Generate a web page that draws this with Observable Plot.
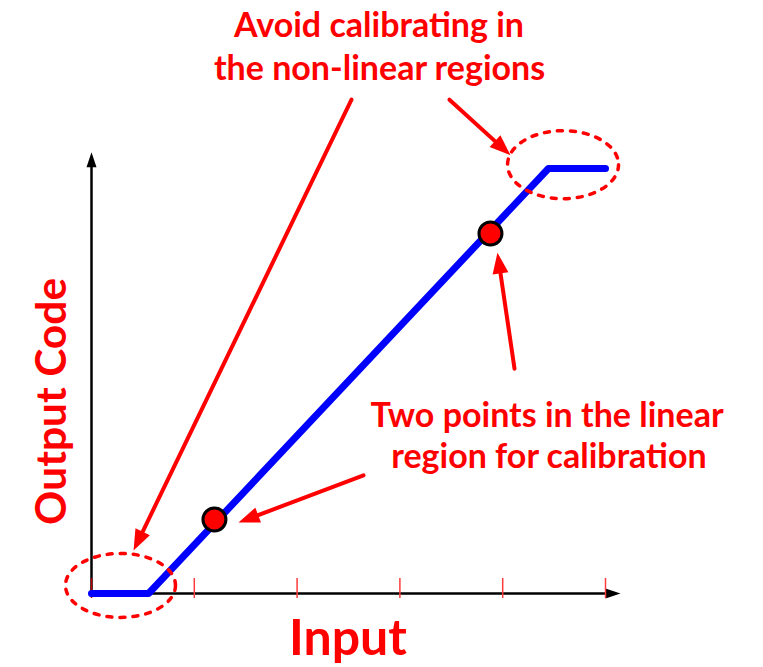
<!DOCTYPE html>
<html>
<head>
<meta charset="utf-8">
<script src="https://cdn.jsdelivr.net/npm/d3@7"></script>
<script src="https://cdn.jsdelivr.net/npm/@observablehq/plot@0.6"></script>
<style>
  html, body { margin: 0; padding: 0; background: #fff; }
  #chart svg { display: block; overflow: visible; }
</style>
</head>
<body>
<div id="chart"></div>
<script>
// ---- data (input units on x, normalized output code on y) ----
const inputTicks = [0, 1, 2, 3, 4, 5];
const transferInput = [0, 0.555, 4.445, 5];
const transferCode = [0, 0, 1, 1];
const calInput = [1.196, 3.881];
const calCode = [0.174, 0.847];
const regionInput = [0.282, 4.587];
const regionCode = [0.019, 1.009];
const labelText = ["Avoid calibrating in", "the non-linear regions", "Two points in the linear", "region for calibration"];
const labelInput = [2.797, 2.802, 4.431, 4.450];
const labelCode = [1.334, 1.235, 0.417, 0.320];
const arrowFromInput = [2.529, 3.482, 4.115, 2.646];
const arrowFromCode = [1.162, 1.162, 0.529, 0.278];
const arrowToInput = [0.409, 4.076, 3.949, 1.430];
const arrowToCode = [0.101, 1.031, 0.802, 0.167];
const axisEndInput = 5.146;
const axisEndCode = 1.038;
const xTitle = ["Input"], xTitleInput = [2.495], xTitleCode = [-0.108];
const yTitle = ["Output Code"], yTitleInput = [-0.385], yTitleCode = [0.452];

const W = 763, H = 667, ML = 91, MR = 158, MT = 168, MB = 74;
const xDomain = [0, 5], yDomain = [0, 1];
const sx = d3.scaleLinear(xDomain, [ML, W - MR]);
const sy = d3.scaleLinear(yDomain, [H - MB, MT]);

const RED = "#ff0000";
const FONT = "Lato, 'Open Sans', sans-serif";

const transfer = transferInput.map((x, i) => ({x, y: transferCode[i]}));
const cal = calInput.map((x, i) => ({x, y: calCode[i]}));
const labels = labelText.map((t, i) => ({t, x: labelInput[i], y: labelCode[i]}));

const HEAD = 21;
const arrows = arrowFromInput.map((x1, i) => {
  const x1p = sx(x1), y1p = sy(arrowFromCode[i]);
  const x2p = sx(arrowToInput[i]), y2p = sy(arrowToCode[i]);
  const dx = x2p - x1p, dy = y2p - y1p, len = Math.hypot(dx, dy);
  const ux = dx / len, uy = dy / len;
  return {
    x1, y1: arrowFromCode[i],
    x2: arrowToInput[i], y2: arrowToCode[i],
    xe: sx.invert(x2p - ux * (HEAD - 4)), ye: sy.invert(y2p - uy * (HEAD - 4)),
    rot: Math.atan2(dx, -dy) * 180 / Math.PI
  };
});

const headShape = (hw) => ({
  draw(ctx, l) {
    ctx.moveTo(0, -l);
    ctx.lineTo(-hw, 0);
    ctx.lineTo(hw, 0);
    ctx.closePath();
  }
});

const ellipse = (rx, ry) => ({
  draw(ctx) {
    const k = 0.5523, kx = rx * k, ky = ry * k;
    ctx.moveTo(rx, 0);
    ctx.bezierCurveTo(rx, ky, kx, ry, 0, ry);
    ctx.bezierCurveTo(-kx, ry, -rx, ky, -rx, 0);
    ctx.bezierCurveTo(-rx, -ky, -kx, -ry, 0, -ry);
    ctx.bezierCurveTo(kx, -ry, rx, -ky, rx, 0);
    ctx.closePath();
  }
});

const regionLow = [{x: regionInput[0], y: regionCode[0]}];
const regionHigh = [{x: regionInput[1], y: regionCode[1]}];

const plot = Plot.plot({
  width: W, height: H,
  marginLeft: ML, marginRight: MR, marginTop: MT, marginBottom: MB,
  x: {domain: xDomain, axis: null},
  y: {domain: yDomain, axis: null},
  style: {background: "#fff", overflow: "visible"},
  marks: [
    // axes
    Plot.ruleY([0], {x1: 0, x2: axisEndInput - 0.1, stroke: "#000", strokeWidth: 2.5}),
    Plot.ruleX([0], {y1: 0, y2: axisEndCode - 0.02, stroke: "#000", strokeWidth: 2.5}),
    Plot.vector([{x: axisEndInput, y: 0}], {x: "x", y: "y", rotate: 90, length: 15, anchor: "end",
      shape: headShape(5), fill: "#000", stroke: "none"}),
    Plot.vector([{x: 0, y: axisEndCode}], {x: "x", y: "y", rotate: 0, length: 15, anchor: "end",
      shape: headShape(5), fill: "#000", stroke: "none"}),
    // ticks
    Plot.ruleX(inputTicks, {x: d => d, y1: 0, y2: 0, insetTop: -15, insetBottom: -5,
      stroke: (d) => d === 0 ? "#b00000" : "#ff3b3b", strokeWidth: 1.5}),
    // transfer curve
    Plot.line(transfer, {x: "x", y: "y", stroke: "#0000ff", strokeWidth: 7,
      strokeLinejoin: "round", strokeLinecap: "round"}),
    // non-linear regions
    Plot.dot(regionLow, {x: "x", y: "y", symbol: ellipse(55, 32), r: 10, fill: "none",
      stroke: RED, strokeWidth: 3.5, strokeDasharray: "5,8", strokeLinecap: "round"}),
    Plot.dot(regionHigh, {x: "x", y: "y", symbol: ellipse(55.5, 34), r: 10, fill: "none",
      stroke: RED, strokeWidth: 3.5, strokeDasharray: "5,8", strokeLinecap: "round"}),
    // calibration points
    Plot.dot(cal, {x: "x", y: "y", r: 11.5, fill: RED, stroke: "#000", strokeWidth: 3}),
    // annotation arrows
    Plot.link(arrows, {x1: "x1", y1: "y1", x2: "xe", y2: "ye", stroke: RED, strokeWidth: 4,
      strokeLinecap: "round"}),
    Plot.vector(arrows, {x: "x2", y: "y2", rotate: "rot", length: HEAD, anchor: "end",
      shape: headShape(8), fill: RED, stroke: "none"}),
    // labels
    Plot.text(labels, {x: "x", y: "y", text: "t", fill: RED, fontSize: 34, fontWeight: "bold",
      fontFamily: FONT, textAnchor: "middle", lineAnchor: "middle"}),
    Plot.text(xTitle, {x: xTitleInput, y: xTitleCode, text: d => d, fill: RED, fontSize: 50,
      fontWeight: "bold", fontFamily: FONT, lineAnchor: "middle"}),
    Plot.text(yTitle, {x: yTitleInput, y: yTitleCode, text: d => d, fill: RED, fontSize: 42.5,
      fontWeight: "bold", fontFamily: FONT, rotate: -90, lineAnchor: "middle"})
  ]
});
document.getElementById("chart").appendChild(plot);
</script>
</body>
</html>
